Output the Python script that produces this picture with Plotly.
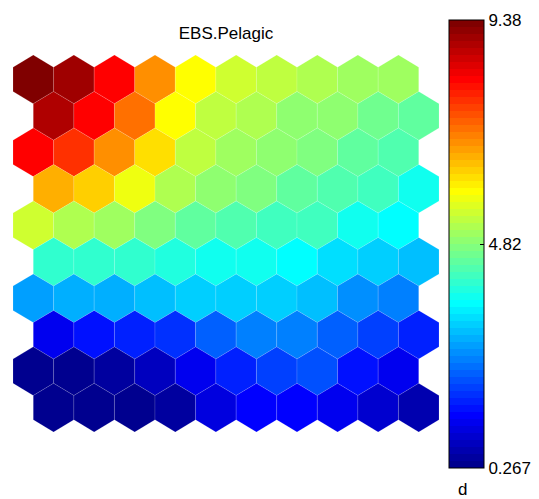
import plotly.graph_objects as go
from plotly.colors import sample_colorscale

title_text = "EBS.Pelagic"
unit_label = "d"
vmin, vmax = 0.267, 9.38
cbar_tickvals = [0.267, 4.82, 9.38]
cbar_ticktext = ["0.267", "4.82", "9.38"]

# component-plane values, row 0 = top row, 10 columns each
row0 = [9.38, 9.02, 8.17, 6.89, 5.89, 5.46, 5.32, 5.18, 5.04, 5.04]
row1 = [8.88, 8.17, 7.17, 5.89, 5.32, 5.18, 4.90, 4.90, 4.61, 4.47]
row2 = [8.17, 7.74, 6.89, 6.18, 5.32, 5.04, 4.90, 4.75, 4.47, 4.33]
row3 = [6.60, 6.32, 5.75, 5.18, 4.90, 4.75, 4.47, 4.33, 4.18, 3.76]
row4 = [5.46, 5.18, 5.04, 4.75, 4.47, 4.33, 4.18, 4.18, 3.76, 3.61]
row5 = [4.04, 4.04, 4.04, 3.90, 3.76, 3.76, 3.61, 3.33, 3.19, 3.04]
row6 = [2.76, 2.90, 2.90, 3.04, 3.19, 3.19, 3.19, 3.04, 2.62, 2.47]
row7 = [1.19, 1.48, 1.62, 1.76, 2.19, 2.47, 2.47, 2.19, 1.90, 1.62]
row8 = [0.34, 0.34, 0.48, 0.77, 1.19, 1.62, 1.90, 2.05, 1.48, 1.19]
row9 = [0.34, 0.267, 0.34, 0.48, 1.05, 1.34, 1.34, 1.19, 0.91, 0.62]
rows = [row0, row1, row2, row3, row4, row5, row6, row7, row8, row9]


def jet64():
    cols = []
    for i in range(1, 65):
        if i <= 8:
            r, g, b = 0, 0, (8 + i) / 16
        elif i <= 24:
            r, g, b = 0, (i - 8) / 16, 1
        elif i <= 40:
            r, g, b = (i - 24) / 16, 1, (40 - i) / 16
        elif i <= 56:
            r, g, b = 1, (56 - i) / 16, 0
        else:
            r, g, b = (72 - i) / 16, 0, 0
        cols.append((round(r * 255), round(g * 255), round(b * 255)))
    return cols


jc = jet64()
cscale_t = []
for k, c in enumerate(jc):
    cscale_t.append([k / 64, c])
    cscale_t.append([(k + 1) / 64, c])
cscale = [[p, "rgb(%d,%d,%d)" % c] for p, c in cscale_t]

fig = go.Figure()

for r, vals in enumerate(rows):
    for c, v in enumerate(vals):
        cx = c + (0.5 if r % 2 == 1 else 0.0)
        cy = r
        t = min(max((v - vmin) / (vmax - vmin), 0.0), 1.0)
        try:
            col = sample_colorscale(cscale_t, [t])[0]
        except Exception:
            k = min(int(t * 64), 63)
            col = "rgb(%d,%d,%d)" % jc[k]
        if isinstance(col, tuple):
            col = "rgb(%d,%d,%d)" % tuple(int(round(x)) for x in col)
        xs = [cx, cx + 0.5, cx + 0.5, cx, cx - 0.5, cx - 0.5, cx]
        ys = [cy - 2 / 3, cy - 1 / 3, cy + 1 / 3, cy + 2 / 3, cy + 1 / 3, cy - 1 / 3, cy - 2 / 3]
        fig.add_trace(go.Scatter(
            x=xs, y=ys, mode="lines", fill="toself", fillcolor=col,
            line=dict(color="rgba(255,255,255,0.25)", width=0.5),
            hoverinfo="skip", showlegend=False))

# plot area in pixels: x 13..439, y 55..432
PL, PW, PB, PH = 13, 426, 432, 377


def px_x(px):
    return (px - PL) / PW


def px_y(py):
    return (PB - py) / PH


fig.add_trace(go.Scatter(
    x=[0, 0], y=[0, 0], mode="markers",
    marker=dict(size=1, opacity=0, color=[vmin, vmax], cmin=vmin, cmax=vmax,
                colorscale=cscale, showscale=True,
                colorbar=dict(
                    x=px_x(449), xanchor="left", xpad=0,
                    y=px_y(20), yanchor="top", ypad=0,
                    lenmode="pixels", len=448, thickness=35,
                    outlinewidth=1, outlinecolor="black",
                    ticks="inside", ticklen=4, tickcolor="black",
                    tickvals=cbar_tickvals, ticktext=cbar_ticktext,
                    tickfont=dict(family="Arial, Liberation Sans", size=17, color="black"),
                )),
    hoverinfo="skip", showlegend=False))

# left-side tick mark on colorbar at middle tick (layout decoration)
mid_t = (cbar_tickvals[1] - vmin) / (vmax - vmin)
mid_px = 468 - mid_t * 448
fig.add_shape(type="line", xref="paper", yref="paper",
              x0=px_x(449), x1=px_x(453), y0=px_y(mid_px), y1=px_y(mid_px),
              line=dict(color="black", width=1))

fig.add_annotation(text=unit_label, xref="paper", yref="paper",
                   x=px_x(462), y=px_y(490),
                   showarrow=False, xanchor="center", yanchor="middle",
                   font=dict(family="Arial, Liberation Sans", size=17, color="black"))

fig.update_layout(
    width=539, height=499,
    margin=dict(l=13, r=100, t=55, b=67, autoexpand=False),
    paper_bgcolor="white", plot_bgcolor="white",
    title=dict(text=title_text, x=226 / 539, xanchor="center",
               y=1 - 33 / 499, yanchor="middle",
               font=dict(family="Arial, Liberation Sans", size=17, color="black")),
    xaxis=dict(range=[-0.5, 10], visible=False, fixedrange=True),
    yaxis=dict(range=[9 + 2 / 3, -2 / 3], visible=False, fixedrange=True),
)

fig.write_html("out.html")
